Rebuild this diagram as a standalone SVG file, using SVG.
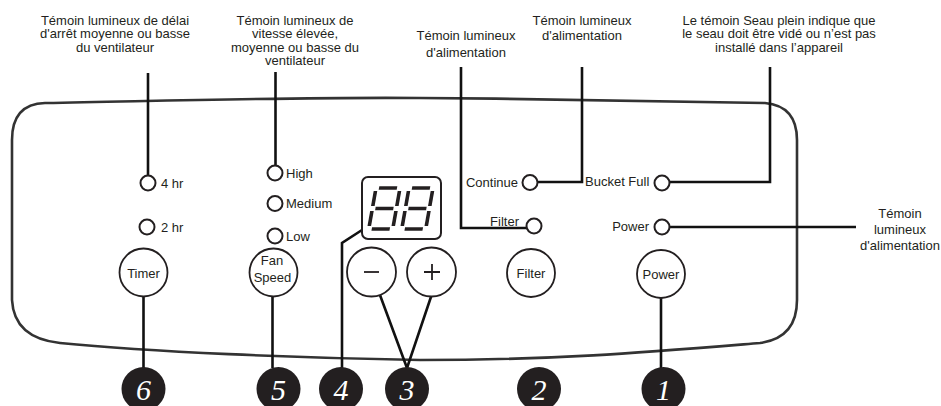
<svg xmlns="http://www.w3.org/2000/svg" width="941" height="406" viewBox="0 0 941 406">
<style>
text{font-family:"Liberation Sans",Arial,sans-serif;font-size:13px;fill:#231f20}
.c{text-anchor:middle}
.e{text-anchor:end}
.led{fill:#fff;stroke:#231f20;stroke-width:2}
.btn{fill:#fff;stroke:#231f20;stroke-width:1.8}
.lead{fill:none;stroke:#111;stroke-width:2.6}
.seg{stroke:#231f20;stroke-width:3.6;stroke-linecap:butt}
.badge{fill:#231f20}
.num{font-family:"Liberation Serif",serif;font-style:italic;font-size:30px;fill:#fff;text-anchor:middle}
</style>
<rect width="941" height="406" fill="#fff"/>

<g id="panel">
<path d="M45,103 C200,100 300,97 420,98 C550,99 700,101 765,103 Q797,106 797,140 L797,300 Q797,338 760,343 C650,352 560,360 420,360 C300,358 150,352 60,343 Q14,338 12,300 L12,140 Q12,104 45,103 Z" fill="none" stroke="#333" stroke-width="2.6"/>
</g>

<g id="labels">
<text class="c" x="115" y="25">Témoin lumineux de délai</text>
<text class="c" x="115" y="38.4">d'arrêt moyenne ou basse</text>
<text class="c" x="115" y="51.8">du ventilateur</text>
<text class="c" x="295" y="25">Témoin lumineux de</text>
<text class="c" x="295" y="38.4">vitesse élevée,</text>
<text class="c" x="295" y="51.8">moyenne ou basse du</text>
<text class="c" x="295" y="65.2">ventilateur</text>
<text class="c" x="466" y="40">Témoin lumineux</text>
<text class="c" x="466" y="56.5">d'alimentation</text>
<text class="c" x="582" y="25">Témoin lumineux</text>
<text class="c" x="582" y="40">d'alimentation</text>
<text class="c" x="779" y="25">Le témoin Seau plein indique que</text>
<text class="c" x="779" y="38.4">le seau doit être vidé ou n’est pas</text>
<text class="c" x="779" y="51.8">installé dans l’appareil</text>
<text class="c" x="900" y="218">Témoin</text>
<text class="c" x="900" y="234">lumineux</text>
<text class="c" x="900" y="250">d'alimentation</text>
</g>

<g id="connectors">
<path class="lead" d="M148,73 V176"/>
<path class="lead" d="M275.5,72 V166"/>
<path class="lead" d="M461,67 V228 H527"/>
<path class="lead" d="M582,67 V182 H537"/>
<path class="lead" d="M770,67 V182 H669"/>
<path class="lead" d="M669,227 H856"/>
<path class="lead" d="M143.5,287 V368"/>
<path class="lead" d="M272.5,287 V368"/>
<path class="lead" d="M362,230 L342,243 V368"/>
<path class="lead" d="M377,287 L407,368 L436,282"/>
<path class="lead" d="M661,287 V368"/>
</g>

<g id="timer">
<circle class="led" cx="148" cy="183" r="7.5"/>
<text x="161" y="187.5">4 hr</text>
<circle class="led" cx="147" cy="227" r="7.5"/>
<text x="161" y="231.5">2 hr</text>
<circle class="btn" cx="143.5" cy="272.5" r="24"/>
<text class="c" x="143.5" y="277.5">Timer</text>
</g>

<g id="fan-speed">
<circle class="led" cx="275" cy="173" r="7.5"/>
<text x="286" y="177.5">High</text>
<circle class="led" cx="275" cy="203.5" r="7.5"/>
<text x="286" y="208">Medium</text>
<circle class="led" cx="275" cy="236" r="7.5"/>
<text x="286" y="240.5">Low</text>
<circle class="btn" cx="273.5" cy="272.5" r="24"/>
<text class="c" x="272" y="265">Fan</text>
<text class="c" x="272.5" y="282">Speed</text>
</g>

<g id="display">
<rect x="362" y="177" width="79" height="62" rx="6" fill="#fff" stroke="#231f20" stroke-width="2"/>
<g transform="translate(376,188) skewX(-10)">
<line class="seg" x1="3" y1="0" x2="21" y2="0"/><line class="seg" x1="24" y1="3" x2="24" y2="18"/><line class="seg" x1="24" y1="23" x2="24" y2="38"/><line class="seg" x1="3" y1="41" x2="21" y2="41"/><line class="seg" x1="0" y1="23" x2="0" y2="38"/><line class="seg" x1="0" y1="3" x2="0" y2="18"/><line class="seg" x1="3" y1="20.5" x2="21" y2="20.5"/>
</g>
<g transform="translate(409,188) skewX(-10)">
<line class="seg" x1="3" y1="0" x2="21" y2="0"/><line class="seg" x1="24" y1="3" x2="24" y2="18"/><line class="seg" x1="24" y1="23" x2="24" y2="38"/><line class="seg" x1="3" y1="41" x2="21" y2="41"/><line class="seg" x1="0" y1="23" x2="0" y2="38"/><line class="seg" x1="0" y1="3" x2="0" y2="18"/><line class="seg" x1="3" y1="20.5" x2="21" y2="20.5"/>
</g>
</g>

<g id="minus">
<circle class="btn" cx="371.5" cy="272" r="24.5"/>
<path d="M364,272 H379" stroke="#231f20" stroke-width="1.8"/>
</g>
<g id="plus">
<circle class="btn" cx="431.5" cy="272" r="24.5"/>
<path d="M424,272 H440 M432,264 V280" stroke="#231f20" stroke-width="1.8"/>
</g>

<g id="filter">
<text class="e" x="518" y="186.5">Continue</text>
<circle class="led" cx="530" cy="182.5" r="7.5"/>
<text class="e" x="519" y="225.5">Filter</text>
<circle class="led" cx="534" cy="226" r="7.5"/>
<circle class="btn" cx="531" cy="273" r="24"/>
<text class="c" x="531" y="278">Filter</text>
</g>

<g id="power">
<text x="585" y="185.5">Bucket Full</text>
<circle class="led" cx="662" cy="183" r="7.5"/>
<text class="e" x="649" y="230.5">Power</text>
<circle class="led" cx="662" cy="227" r="7.5"/>
<circle class="btn" cx="661" cy="274" r="24"/>
<text class="c" x="661" y="279">Power</text>
</g>

<g id="badges">
<circle class="badge" cx="143.5" cy="389" r="22"/><text class="num" x="143.5" y="400">6</text>
<circle class="badge" cx="278.5" cy="389" r="22"/><text class="num" x="278.5" y="400">5</text>
<circle class="badge" cx="341" cy="389" r="22"/><text class="num" x="341" y="400">4</text>
<circle class="badge" cx="407" cy="389" r="22"/><text class="num" x="407" y="400">3</text>
<circle class="badge" cx="539" cy="389" r="22"/><text class="num" x="539" y="400">2</text>
<circle class="badge" cx="663.5" cy="389" r="22"/><text class="num" x="663.5" y="400">1</text>
</g>
</svg>
